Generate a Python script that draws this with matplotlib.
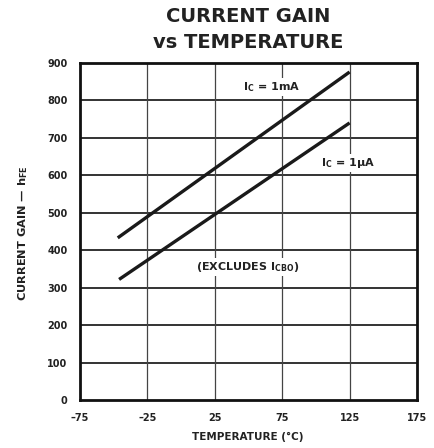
import matplotlib
matplotlib.use("Agg")
import matplotlib.pyplot as plt

plt.rcParams['font.family'] = ['DejaVu Sans']
plt.rcParams['mathtext.fontset'] = 'custom'
plt.rcParams['mathtext.rm'] = 'DejaVu Sans:bold'
plt.rcParams['mathtext.bf'] = 'DejaVu Sans:bold'
plt.rcParams['mathtext.it'] = 'DejaVu Sans:bold'

# Data
temp_1mA = [-47, 125]
hfe_1mA = [433, 876]
temp_1uA = [-46, 125]
hfe_1uA = [322, 740]

x_ticks = [-75, -25, 25, 75, 125, 175]
x_tick_labels = ["\u201375", "\u201325", "25", "75", "125", "175"]
y_ticks = [0, 100, 200, 300, 400, 500, 600, 700, 800, 900]
y_tick_labels = [str(v) for v in y_ticks]

W, H = 435, 448
fig = plt.figure(figsize=(W / 100, H / 100), dpi=100)
ax = fig.add_axes([80 / W, 48 / H, 337 / W, 337 / H])

ax.set_xlim(-75, 175)
ax.set_ylim(0, 900)

# grid
for yv in y_ticks[1:-1]:
    ax.axhline(yv, color='#333333', lw=1.4, zorder=1)
for xv in x_ticks[1:-1]:
    ax.axvline(xv, color='#444444', lw=0.9, zorder=1)

ax.plot(temp_1mA, hfe_1mA, color='#1a1a1a', lw=2.4, solid_capstyle='butt', zorder=3)
ax.plot(temp_1uA, hfe_1uA, color='#1a1a1a', lw=2.4, solid_capstyle='butt', zorder=3)

ann_kw = dict(ha='center', va='center', fontsize=8, fontweight='bold', color='#222222',
              bbox=dict(facecolor='white', edgecolor='none', pad=1.5), zorder=2)
ax.text(67, 836, r"$\mathbf{I_C}$ = 1mA", **ann_kw)
ax.text(124, 633, "$\\mathbf{I_C}$ = 1\u00b5A", **ann_kw)
ax.text(49, 355, r"(EXCLUDES $\mathbf{I_{CBO}}$)", **ann_kw)

ax.set_xticks(x_ticks)
ax.set_xticklabels(x_tick_labels)
ax.set_yticks(y_ticks)
ax.set_yticklabels(y_tick_labels)
ax.tick_params(length=0, labelsize=7, colors='#222222')
ax.tick_params(axis='y', pad=9)
ax.tick_params(axis='x', pad=9)
for lab in ax.get_xticklabels() + ax.get_yticklabels():
    lab.set_fontweight('bold')

for sp in ax.spines.values():
    sp.set_linewidth(2.0)
    sp.set_color('#111111')

fig.text(248 / W, 1 - 17 / H, "CURRENT GAIN", ha='center', va='center',
         fontsize=14, fontweight='bold', color='#222222')
fig.text(248 / W, 1 - 42 / H, "vs TEMPERATURE", ha='center', va='center',
         fontsize=14, fontweight='bold', color='#222222')

fig.text(248 / W, 1 - 437 / H, "TEMPERATURE (\u00b0C)", ha='center', va='center',
         fontsize=7.5, fontweight='bold', color='#222222')
fig.text(23 / W, 1 - 233 / H, "CURRENT GAIN \u2014 " + r"$\mathbf{h_{FE}}$",
         ha='center', va='center', rotation=90,
         fontsize=8.2, fontweight='bold', color='#222222')

fig.savefig("out.png", dpi=100, facecolor='white')
